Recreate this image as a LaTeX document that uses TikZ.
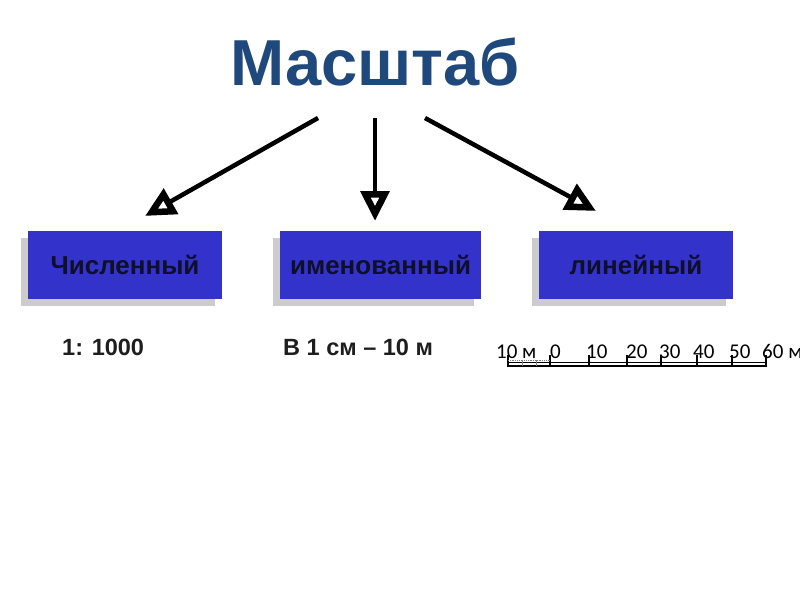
\documentclass[tikz,border=0pt]{standalone}
\usepackage{fontspec}
\setmainfont{Liberation Sans}
\newfontfamily\scalefont{Carlito}
\usetikzlibrary{arrows.meta,positioning,shadows}
\definecolor{titleblue}{RGB}{31,73,125}
\definecolor{boxblue}{RGB}{51,51,204}
\definecolor{boxtext}{RGB}{15,15,40}
\definecolor{labeltext}{RGB}{30,30,30}

\begin{document}
\begin{tikzpicture}[x=1pt,y=-1pt]
  \tikzset{kind/.style = {shape=rectangle,fill=boxblue,minimum width=194pt,minimum height=68pt,inner sep=0pt,
      font=\fontsize{26}{30}\selectfont\bfseries,text=boxtext,
      drop shadow={shadow xshift=-7pt,shadow yshift=-7pt,opacity=0.2,fill=black}}}
  \tikzset{example/.style = {font=\fontsize{23.5}{27}\selectfont\bfseries,text=labeltext,inner sep=0pt}}
  \tikzset{edge/.style = {-{Triangle[open,length=30pt,width=28pt,line width=6.5pt]},line width=4.5pt,line join=miter}}
  \tikzset{tick/.style = {font=\scalefont\fontsize{21}{24}\selectfont,inner sep=0pt,anchor=base west}}

  \useasboundingbox[fill=white] (0,0) rectangle (800,600);

  \node[font=\fontsize{65}{72}\selectfont\bfseries,text=titleblue] (title) at (375,62) {Масштаб};

	\node[kind] (num) at (125,265) {Численный};
	\node[kind,minimum width=201pt] (named) at (380.5,265) {именованный};
	\node[kind] (lin) at (636,265) {линейный};

	\node[example,anchor=base west] (numex) at (62,355) {1: 1000};
	\node[example,anchor=base west] (namedex) at (283,355) {В 1 см – 10 м};

	\coordinate (s1) at (318,118);
	\coordinate (s2) at (375,118);
	\coordinate (s3) at (425,118);
	\coordinate (e1) at (145,216);
	\coordinate (e2) at (375,221);
	\coordinate (e3) at (596,211);

    \foreach \from/\to in {s1/e1, s2/e2, s3/e3}
    \path[edge](\from) edge (\to);

	% linear scale bar
	\foreach \x/\t in {496/10 м, 550/0, 586/10, 626/20, 659/30, 693/40, 729/50, 762/60 м}
	\node[tick] at (\x,358) {\t};
	\draw[line width=1pt] (508,362) -- (766,362);
	\draw[line width=2.6pt] (508,366) -- (766,366);
	\foreach \x in {508,550,589,627,661,697,732,766}
	\draw[line width=2.4pt] (\x,355) -- (\x,367);
	\draw[densely dotted,line width=0.8pt,gray] (508,360) -- (550,360);
	\foreach \x in {522,536}
	\draw[line width=0.8pt,gray] (\x,360) -- (\x,366);
\end{tikzpicture}
\end{document}
